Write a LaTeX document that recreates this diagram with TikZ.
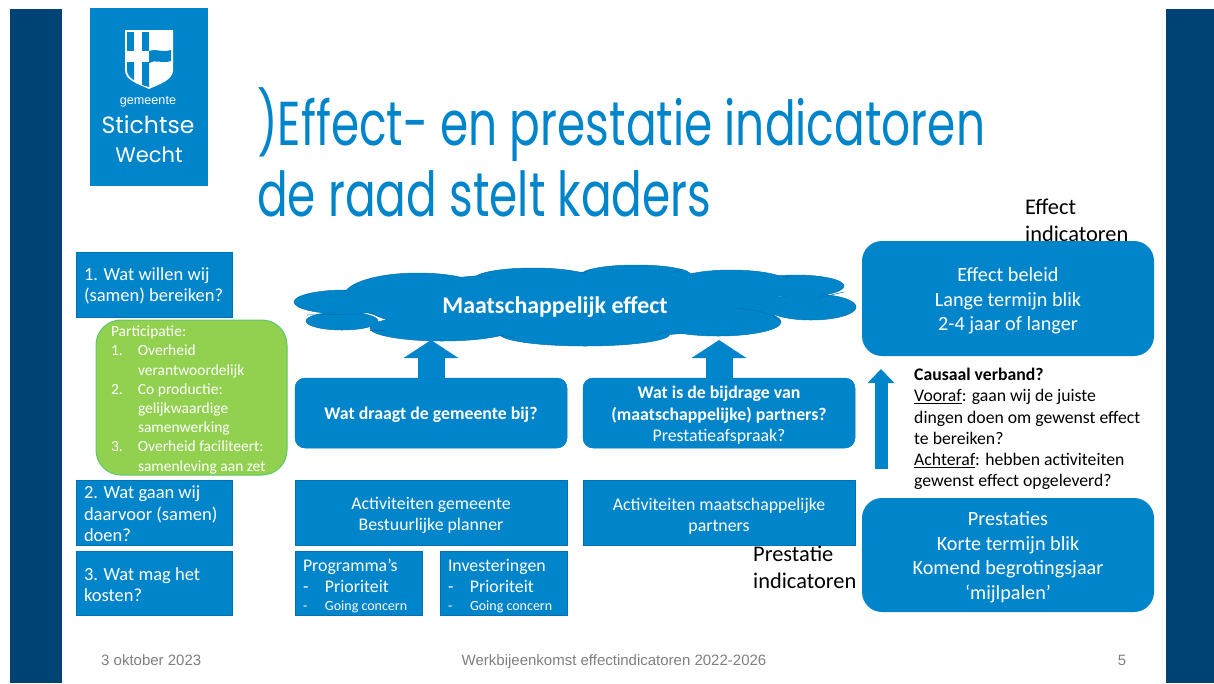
\documentclass[tikz,border=0pt]{standalone}
\usepackage{fontspec}
\usetikzlibrary{arrows.meta}
\setmainfont{Carlito}
\newfontfamily\titlefont{Poppins}
\newfontfamily\footfont{Liberation Sans}
\definecolor{sbblue}{HTML}{0085CB}
\definecolor{sbdark}{HTML}{004375}
\definecolor{sbgreen}{HTML}{92D050}
\definecolor{sbgreenline}{HTML}{5CC76B}
\newcommand{\fsz}[2]{\fontsize{#1}{#2}\selectfont}
\newcommand{\itm}[1]{\makebox[27pt][l]{#1}}
\newcommand{\dsh}{\makebox[22pt][l]{-}}
\newcommand{\ttl}[1]{\scalebox{0.733}[1]{#1}}
\newcommand{\dn}[1]{\rule{0pt}{#1pt}}
\tikzset{
  x=1pt,y=-1pt,
  basebox/.style={fill=sbblue,text=white,inner sep=0pt,outer sep=0pt,align=center,anchor=north west},
  qbox/.style={basebox,draw=sbblue!70!sbdark,line width=.6pt,align=flush left,font=\fsz{18.5}{21.3},minimum width=156pt,text width=148pt},
  actbox/.style={basebox,draw=sbblue!70!sbdark,line width=.6pt,font=\fsz{17.8}{21},minimum width=272pt,minimum height=65pt},
  subbox/.style={basebox,draw=sbblue!70!sbdark,line width=.6pt,align=flush left,font=\fsz{17.8}{20.5},minimum width=127pt,minimum height=64pt,text width=119pt},
  softbox/.style={basebox,rounded corners=10pt,draw=sbblue!80!sbdark,line width=.5pt,minimum width=272pt,minimum height=70pt,font=\fsz{17.8}{21.5}},
  bigbox/.style={basebox,rounded corners=20pt,font=\fsz{20.2}{24.5},minimum width=292pt},
  lobe/.style={fill=sbblue,draw=sbblue!75!sbdark,line width=.5pt},
  seam/.style={draw=sbblue!65!sbdark,line width=.5pt},
  blockup/.style={draw=sbblue,line width=27pt,-{Triangle[length=18pt,width=54pt]}},
  thinup/.style={draw=sbblue,line width=13pt,-{Triangle[length=14pt,width=26pt]}},
  plain/.style={anchor=north west,inner sep=0pt,align=left,text=black},
  foot/.style={text=black!50,font=\footfont\fsz{15}{17},inner sep=0pt},
  titletext/.style={text=sbblue,font=\titlefont\fsz{62}{66},inner sep=0pt,anchor=base west},
}
\begin{document}
\begin{tikzpicture}
\useasboundingbox (0,0) rectangle (1214,683);
\fill[white] (0,0) rectangle (1214,683);
\fill[sbdark] (10,9) rectangle (62,683);
\fill[sbdark] (1166,9) rectangle (1214,683);
% logo
\fill[sbblue] (90,8) rectangle (208,186);
\fill[white] (125,30) -- (173,30) -- (173,70) .. controls (173,80) and (160,84) .. (149,89) .. controls (138,84) and (125,80) .. (125,70) -- cycle;
\fill[sbblue] (127,32) rectangle (134,51);
\fill[sbblue] (142,32) rectangle (149,51);
\fill[sbblue] (127,62) -- (134,62) -- (134,80) .. controls (130,78) and (127,74) .. (127,70) -- cycle;
\fill[sbblue] (142,62) -- (149,62) -- (149,87) -- (142,85) -- cycle;
\fill[sbblue] (149,51) .. controls (155,48) and (162,53) .. (171,50) -- (171,61) .. controls (162,64) and (155,59) .. (149,63) -- cycle;
\node[text=white,font=\footfont\fsz{12.6}{15},inner sep=0pt] (gem) at (148,102) {gemeente};
\node[text=white,font=\titlefont\fsz{23.5}{28},inner sep=0pt] (sti) at (148,125) {Stichtse};
\node[text=white,font=\titlefont\fsz{21}{28},inner sep=0pt] (wec) at (149,155) {Wecht};
% title
\node[titletext] (t1) at (257,145) {\ttl{)Effect- en prestatie indicatoren}};
\node[titletext] (t2) at (257,216) {\ttl{de raad stelt kaders}};
% left column
\node[qbox,minimum height=65pt] (q1) at (76,252) {\hspace*{4pt}\dn{15.5}1. Wat willen wij\\\hspace*{4pt}(samen) bereiken?};
\node[qbox,minimum height=65pt] (q2) at (76,480) {\hspace*{4pt}\dn{15.5}2. Wat gaan wij\\\hspace*{4pt}daarvoor (samen)\\\hspace*{4pt}doen?};
\node[qbox,minimum height=64pt] (q3) at (76,551) {\hspace*{4pt}\dn{15.5}3. Wat mag het\\\hspace*{4pt}kosten?};
\node[basebox,fill=sbgreen,draw=sbgreenline,line width=1pt,rounded corners=25pt,minimum width=191pt,minimum height=155pt,align=flush left,text width=180pt,font=\fsz{15.5}{19.2}] (part) at (96,320) {\hspace*{9.5pt}\dn{15.5}Participatie:\\\hspace*{9.5pt}\itm{1.}Overheid\\\hspace*{9.5pt}\itm{}verantwoordelijk\\\hspace*{9.5pt}\itm{2.}Co productie:\\\hspace*{9.5pt}\itm{}gelijkwaardige\\\hspace*{9.5pt}\itm{}samenwerking\\\hspace*{9.5pt}\itm{3.}Overheid faciliteert:\\\hspace*{9.5pt}\itm{}samenleving aan zet};
% cloud
\foreach \cx/\cy/\rx/\ry in {345/302/51/12, 342/321/36/9, 442/328/72/13, 585/334/85/12, 718/322/63/14, 533/279/59/11, 636/275/55/10, 731/285/61/15, 796/286/48/11, 811/307/45/13, 418/296/74/23, 575/305/210/33}
  \draw[lobe] (\cx,\cy) ellipse [x radius=\rx, y radius=\ry];
\foreach \cx/\cy/\rx/\ry in {345/302/50/11, 342/321/35/8, 442/328/71/12, 585/334/84/11, 718/322/62/13, 533/279/58/10, 636/275/54/9, 731/285/60/14, 796/286/47/10, 811/307/44/12, 418/296/73/22, 575/305/209/32}
  \fill[sbblue] (\cx,\cy) ellipse [x radius=\rx, y radius=\ry];
\draw[seam] (478,276) -- (492,278);
\draw[seam] (581,274) -- (590,270);
\draw[seam] (672,273) -- (683,269);
\draw[seam] (783,276) -- (794,278);
\draw[seam] (818,298) -- (844,292);
\draw[seam] (737,308) .. controls (760,310) and (775,315) .. (781,322);
\draw[seam] (655,335) -- (670,330);
\draw[seam] (500,335) -- (515,338);
\draw[seam] (370,330) -- (385,330);
\draw[seam] (307,315) -- (357,314);
\draw[seam] (344,290) -- (350,295);
\node[text=white,inner sep=0pt,font=\bfseries\fsz{23.9}{28}] (cloud) at (555,307) {Maatschappelijk effect};
% middle
\node[softbox,font=\bfseries\fsz{17.8}{21}] (gem2) at (295,378) {\dn{15}Wat draagt de gemeente bij?};
\node[softbox] (par) at (583,378) {\dn{17}\textbf{Wat is de bijdrage van}\\\textbf{(maatschappelijke) partners?}\\Prestatieafspraak?};
\coordinate (tipa) at (431,340);
\coordinate (tipb) at (719,340);
\draw[blockup] (gem2.north) -- (tipa);
\draw[blockup] (par.north) -- (tipb);
\node[actbox] (acta) at (295,480) {\dn{19}Activiteiten gemeente\\Bestuurlijke planner};
\node[actbox] (actb) at (583,480) {\dn{19}Activiteiten maatschappelijke\\partners};
\node[subbox] (prog) at (295,551) {\hspace*{4pt}\dn{19}Programma’s\\\hspace*{4pt}\dsh Prioriteit\\[-2pt]\hspace*{4pt}{\fsz{14}{16}\dsh Going concern}};
\node[subbox] (inv) at (440,551) {\hspace*{4pt}\dn{19}Investeringen\\\hspace*{4pt}\dsh Prioriteit\\[-2pt]\hspace*{4pt}{\fsz{14}{16}\dsh Going concern}};
\node[plain,font=\fsz{22.4}{27}] (pind) at (753,546) {Prestatie\\indicatoren};
% right
\node[plain,font=\fsz{22.4}{27}] (eind) at (1025,199) {Effect\\indicatoren};
\node[bigbox,minimum height=115pt] (eff) at (862,241) {\dn{18.7}Effect beleid\\Lange termijn blik\\2-4 jaar of langer};
\node[bigbox,minimum height=114pt] (pre) at (862,498) {\dn{18.7}Prestaties\\Korte termijn blik\\Komend begrotingsjaar\\‘mijlpalen’};
\coordinate (ca) at (881,469);
\coordinate (cb) at (881,369);
\draw[thinup] (ca) -- (cb);
\node[plain,font=\fsz{17.7}{21.2}] (caus) at (914,368) {\textbf{Causaal verband?}\\\underline{Vooraf}: gaan wij de juiste\\dingen doen om gewenst effect\\te bereiken?\\\underline{Achteraf}: hebben activiteiten\\gewenst effect opgeleverd?};
% footer
\node[foot,anchor=base west] (f1) at (101,665) {3 oktober 2023};
\node[foot,anchor=base] (f2) at (614,665) {Werkbijeenkomst effectindicatoren 2022-2026};
\node[foot,anchor=base] (f3) at (1122,665) {5};
\end{tikzpicture}
\end{document}
